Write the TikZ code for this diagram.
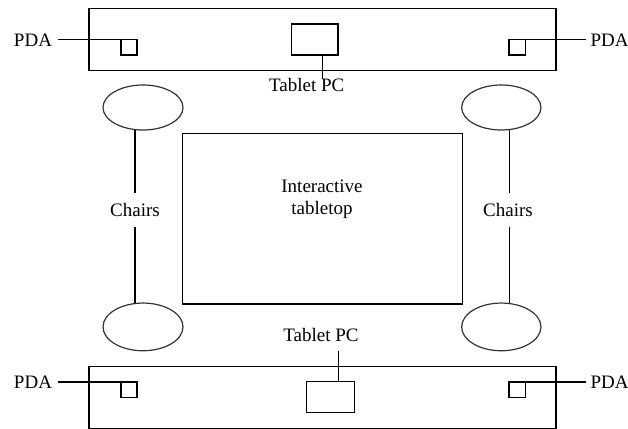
\documentclass[tikz,border=0pt]{standalone}
\usepackage{fontspec}
\setmainfont{Liberation Serif}
\usetikzlibrary{shapes.geometric}
\begin{document}
\begin{tikzpicture}[x=1pt,y=-1pt,
  line width=1.4pt,
  every node/.style={inner sep=0pt, outer sep=0pt},
  box/.style={draw, rectangle},
  chair/.style={draw, ellipse, line width=1.2pt, draw=black!80, minimum width=80pt},
  pdasq/.style={draw, rectangle, minimum width=16pt, minimum height=15.5pt},
  tabpc/.style={draw, rectangle, minimum width=47pt, minimum height=31pt},
  lbl/.style={font=\fontsize{19}{22}\selectfont, text height=13pt, text depth=0pt}
]
\useasboundingbox (0,0) rectangle (628,428);

% tables along the top and bottom edges
\node[box, minimum width=467pt, minimum height=62.4pt] (deskT) at (322.5,39.5) {};
\node[box, minimum width=467pt, minimum height=62pt] (deskB) at (322.5,397.7) {};

% interactive tabletop in the middle
\node[box, minimum width=280pt, minimum height=170.7pt] (table) at (322.7,218.7) {};
\node[lbl, align=center, font=\fontsize{19}{21.6}\selectfont] (tlabel) at (322,208) {Interactive\\tabletop};

% tablet PCs
\node[tabpc, minimum width=46.3pt] (tabT) at (314.8,39.5) {};
\node[tabpc, minimum width=47.6pt] (tabB) at (330.5,397.2) {};
\node[lbl, anchor=base] (lblT) at (306.7,91.7) {Tablet PC};
\node[lbl, anchor=base, inner ysep=9pt] (lblB) at (321,341.7) {Tablet PC};
\draw ([xshift=7.9pt]tabT.south) -- ([xshift=7.9pt]tabT.south |- lblT.north);
\draw ([xshift=7.8pt]tabB.north) -- ([xshift=7.8pt]tabB.north |- lblB.south);

% PDAs
\node[pdasq] (sqTL) at (129,47.3) {};
\node[pdasq, minimum width=16.7pt] (sqTR) at (517.3,47.3) {};
\node[pdasq] (sqBL) at (129,389.7) {};
\node[pdasq, minimum width=16.7pt] (sqBR) at (517.3,389.7) {};
\node[lbl, anchor=base east, inner xsep=6pt] (pdaTL) at (58,46) {PDA};
\node[lbl, anchor=base west, inner xsep=4.5pt] (pdaTR) at (586,46) {PDA};
\node[lbl, anchor=base east, inner xsep=6pt] (pdaBL) at (58,388.3) {PDA};
\node[lbl, anchor=base west, inner xsep=4.5pt] (pdaBR) at (586,388.3) {PDA};
\draw (pdaTL.east |- sqTL.north) -- (sqTL.north east);
\draw (sqTR.north west) -- (pdaTR.west |- sqTR.north);
\draw (pdaBL.east |- sqBL.north) -- (sqBL.north east);
\draw (sqBR.north west) -- (pdaBR.west |- sqBR.north);

% chairs
\node[chair, minimum height=45pt] (chTL) at (143,107.5) {};
\node[chair, minimum height=47.7pt] (chBL) at (143,326.9) {};
\node[chair, minimum width=79.3pt, minimum height=45pt] (chTR) at (501.3,107.5) {};
\node[chair, minimum width=79.3pt, minimum height=47.7pt] (chBR) at (501.3,326.9) {};
\node[lbl, anchor=base, inner ysep=10.3pt] (chairsL) at (135,216.7) {Chairs};
\node[lbl, anchor=base, inner ysep=10.3pt] (chairsR) at (508,216.7) {Chairs};
\draw (chairsL.north) -- (chairsL.north |- chTL.south);
\draw (chairsL.south) -- (chairsL.south |- chBL.north);
\draw ([xshift=1.3pt]chairsR.north) -- ([xshift=1.3pt]chairsR.north |- chTR.south);
\draw ([xshift=1.3pt]chairsR.south) -- ([xshift=1.3pt]chairsR.south |- chBR.north);
\end{tikzpicture}
\end{document}
